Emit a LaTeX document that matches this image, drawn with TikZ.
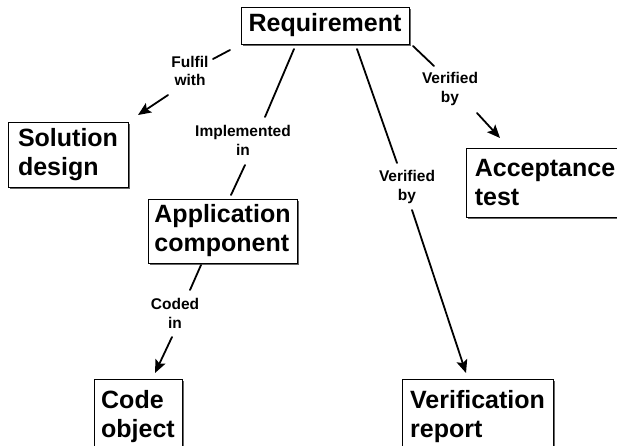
\documentclass[tikz,border=0pt]{standalone}
\usepackage{fontspec}
\setmainfont{Liberation Sans}
\usetikzlibrary{arrows.meta,shadows}
\begin{document}
\begin{tikzpicture}[x=1pt,y=-1pt,
  box/.style={draw=black,line width=0.9pt,fill=white,rectangle,inner sep=0pt,
    align=left,font=\fontsize{25}{29}\selectfont\bfseries,
    drop shadow={shadow xshift=2pt,shadow yshift=-2pt,fill=black!60,opacity=1}},
  lbl/.style={inner sep=0pt,align=center,font=\fontsize{15.5}{18.5}\selectfont\bfseries},
  conn/.style={line width=1.8pt,line cap=round},
  arr/.style={conn,-{Stealth[length=13pt,width=11pt,inset=2.5pt]}}]
\useasboundingbox (0,0) rectangle (617,445);
\clip (0,0) rectangle (617,445);
\fill[white] (0,0) rectangle (617,445);
% boxes
\node[box,minimum width=168pt,minimum height=37pt] (req) at (325,25.5) {Requirement};
\node[box,minimum width=120pt,minimum height=65pt] (sol) at (68,154.5) {Solution\\design};
\node[box,minimum width=149pt,minimum height=64pt] (app) at (222.5,231) {Application\\component};
\node[box,minimum width=158pt,minimum height=69pt] (acc) at (545,182.5) {Acceptance\\test};
\node[box,minimum width=88pt,minimum height=76pt] (code) at (138,417) {Code\\object};
\node[box,minimum width=151pt,minimum height=76pt] (verif) at (477.5,417) {Verification\\report};
% labels
\node[lbl] (fulfil) at (190,71) {Fulfil\\with};
\node[lbl] (impl) at (243,140.5) {Implemented\\in};
\node[lbl] (verA) at (450,89) {Verified\\by};
\node[lbl] (verB) at (407,187) {Verified\\by};
\node[lbl] (coded) at (175,313.5) {Coded\\in};
% connectors
\draw[conn] ([shift={(-95,24.5)}]req.center) -- ([shift={(23,-12)}]fulfil.center);
\draw[arr] ([shift={(-22,24)}]fulfil.center) -- ([shift={(70,-39.5)}]sol.center);
\draw[conn] ([shift={(-31,23.5)}]req.center) -- ([shift={(22,-23.5)}]impl.center);
\draw[conn] ([shift={(2,24.5)}]impl.center) -- ([shift={(8.5,-36)}]app.center);
\draw[conn] ([shift={(32,23.5)}]req.center) -- ([shift={(-10,-24)}]verB.center);
\draw[arr] ([shift={(5,23)}]verB.center) -- ([shift={(-11.5,-44)}]verif.center);
\draw[conn] ([shift={(88,20.5)}]req.center) -- ([shift={(-16,-23)}]verA.center);
\draw[arr] ([shift={(27,24)}]verA.center) -- ([shift={(-45,-44.5)}]acc.center);
\draw[conn] ([shift={(-21.5,34)}]app.center) -- ([shift={(15,-23.5)}]coded.center);
\draw[arr] ([shift={(-3,23.5)}]coded.center) -- ([shift={(17,-44)}]code.center);
\end{tikzpicture}
\end{document}
